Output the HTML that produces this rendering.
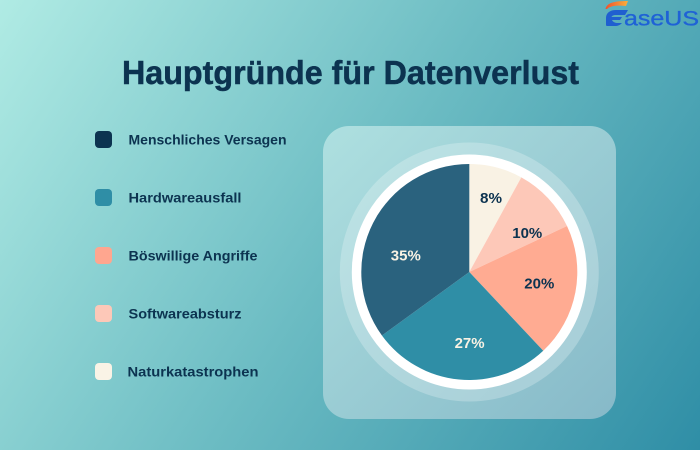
<!DOCTYPE html>
<html lang="de">
<head>
<meta charset="utf-8">
<title>Hauptgründe für Datenverlust</title>
<style>
html,body{margin:0;padding:0;width:700px;height:450px;overflow:hidden}
svg{display:block}
text{font-family:"Liberation Sans",sans-serif;font-weight:700}
</style>
</head>
<body>
<svg id="chart" xmlns="http://www.w3.org/2000/svg" width="700" height="450" viewBox="0 0 700 450">
  <defs>
    <linearGradient id="bg" gradientUnits="userSpaceOnUse" x1="0" y1="0" x2="700" y2="450">
      <stop offset="0" stop-color="#b0ebe4"/>
      <stop offset="0.5" stop-color="#6cbcc3"/>
      <stop offset="1" stop-color="#2f8ea6"/>
    </linearGradient>
    <linearGradient id="panelFill" gradientUnits="userSpaceOnUse" x1="323" y1="126" x2="616" y2="419">
      <stop offset="0" stop-color="#aee0e0"/>
      <stop offset="1" stop-color="#86b9c8"/>
    </linearGradient>
    <linearGradient id="logoArc" x1="0" y1="0" x2="1" y2="0">
      <stop offset="0" stop-color="#f0522c"/>
      <stop offset="1" stop-color="#fbb03b"/>
    </linearGradient>
  </defs>
  <rect width="700" height="450" fill="url(#bg)"/>

  <g>
    <path d="M605.5 9 C607 3 613 1 628 1 L626 6 C616 5 610 6 607 9 Z" fill="url(#logoArc)"/>
    <path d="M606 25 L606 18 C606 13 610 10 616 10 L628 10 L625 15 L616 15 C613 15 612 16 611.5 17 L622 17 L620 20 L612 20 C613 22 615 23 618 23 L622 23 C620 25 618 26 615 26 L608 26 C607 26 606 26 606 25 Z" fill="#1f5fd0"/>
    <text x="624" y="25.5" font-size="21" textLength="75" lengthAdjust="spacingAndGlyphs" fill="#1f62d6" stroke="#1f62d6" stroke-width="0.35" style="font-weight:400">aseUS</text>
  </g>

  <text x="122" y="84" font-size="33" textLength="457" lengthAdjust="spacingAndGlyphs" fill="#0c3350" stroke="#0c3350" stroke-width="0.5">Hauptgründe für Datenverlust</text>

  <g id="legend"></g>

  <rect x="323" y="126" width="293" height="293" rx="26" fill="url(#panelFill)"/>
  <circle id="halo" fill="#ffffff" fill-opacity="0.24"/>
  <circle id="rim" fill="#ffffff"/>
  <g id="slices"></g>
  <g id="labels"></g>
</svg>
<script>
const categories = ['Menschliches Versagen', 'Hardwareausfall', 'Böswillige Angriffe', 'Softwareabsturz', 'Naturkatastrophen'];
const shares = [35, 27, 20, 10, 8];
const printedLabels = ['35%', '27%', '20%', '10%', '8%'];
const legendColors = ['#0c3350', '#2f8ea6', '#ffa68f', '#fdc8b8', '#faf3e6'];
const sliceColors = ['#2a627e', '#2f8ea6', '#ffab92', '#fdc8b8', '#f9f2e4'];
const labelColors = ['#f9f2e4', '#f9f2e4', '#0c3350', '#0c3350', '#0c3350'];

const NS = 'http://www.w3.org/2000/svg';
const cx = 469.3, cy = 272, r = 108;
const total = shares.reduce((a, b) => a + b, 0);
const nudgeX = [0, 7, 0, 6, 4];
const nudgeY = [16, 0, -2, 10, -5];
const labelWidth = [30, 30, 30, 30, 22];

document.getElementById('halo').setAttribute('cx', cx);
document.getElementById('halo').setAttribute('cy', cy);
document.getElementById('halo').setAttribute('r', 129.5);
document.getElementById('rim').setAttribute('cx', cx);
document.getElementById('rim').setAttribute('cy', cy);
document.getElementById('rim').setAttribute('r', 117.5);

function angleOf(cumulative) {
  return cumulative / total * 2 * Math.PI;
}
function px(a, rad) { return cx + rad * Math.sin(a); }
function py(a, rad) { return cy - rad * Math.cos(a); }

const slicesG = document.getElementById('slices');
const labelsG = document.getElementById('labels');

// Slices run clockwise from 12 o'clock in reverse category order.
let cum = 0;
for (let i = shares.length - 1; i >= 0; i--) {
  const a0 = angleOf(cum);
  const a1 = angleOf(cum + shares[i]);
  const mid = (a0 + a1) / 2;
  cum += shares[i];

  const path = document.createElementNS(NS, 'path');
  const large = (a1 - a0) > Math.PI ? 1 : 0;
  path.setAttribute('d', `M${cx} ${cy}L${px(a0, r)} ${py(a0, r)}A${r} ${r} 0 ${large} 1 ${px(a1, r)} ${py(a1, r)}Z`);
  path.setAttribute('fill', sliceColors[i]);
  
  
  slicesG.appendChild(path);

  const t = document.createElementNS(NS, 'text');
  t.setAttribute('x', px(mid, r * 0.66) + nudgeX[i]);
  t.setAttribute('y', py(mid, r * 0.66) + 5 + nudgeY[i]);
  t.setAttribute('text-anchor', 'middle');
  t.setAttribute('font-size', '14.5');
  t.setAttribute('textLength', labelWidth[i]);
  t.setAttribute('lengthAdjust', 'spacingAndGlyphs');
  t.setAttribute('fill', labelColors[i]);
  t.textContent = printedLabels[i];
  
  
  labelsG.appendChild(t);
}

const legendG = document.getElementById('legend');
const legendTextWidth = [158, 113, 129, 113, 131];
categories.forEach((name, i) => {
  const y = 131 + i * 58;
  const sw = document.createElementNS(NS, 'rect');
  sw.setAttribute('x', 95);
  sw.setAttribute('y', y);
  sw.setAttribute('width', 17);
  sw.setAttribute('height', 17);
  sw.setAttribute('rx', 4);
  sw.setAttribute('fill', legendColors[i]);
  
  
  legendG.appendChild(sw);

  const t = document.createElementNS(NS, 'text');
  t.setAttribute('x', i === 4 ? 127.5 : 128.5);
  t.setAttribute('y', y + 13.5);
  t.setAttribute('font-size', '14');
  t.setAttribute('fill', '#0c3350');
  t.setAttribute('textLength', legendTextWidth[i]);
  t.setAttribute('lengthAdjust', 'spacingAndGlyphs');
  t.textContent = name;
  
  
  legendG.appendChild(t);
});
</script>
</body>
</html>
